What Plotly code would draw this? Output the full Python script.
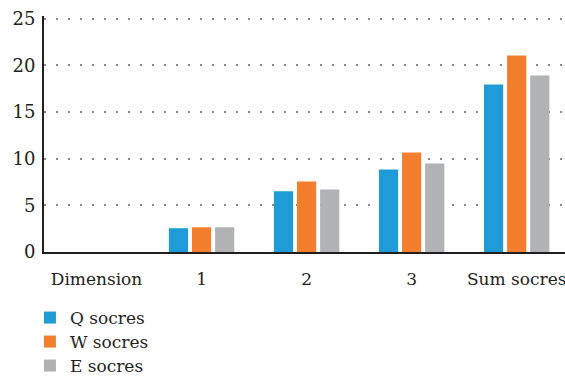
import plotly.graph_objects as go

categories = ["Dimension", "1", "2", "3", "Sum socres"]
q_scores = [None, 2.55, 6.5, 8.85, 17.95]
w_scores = [None, 2.65, 7.57, 10.67, 21.06]
e_scores = [None, 2.65, 6.71, 9.5, 18.92]
y_ticks = [0, 5, 10, 15, 20, 25]

series = [
    ("Q socres", q_scores, "#1F9BD7"),
    ("W socres", w_scores, "#F37F2E"),
    ("E socres", e_scores, "#B1B2B5"),
]

font_family = "DejaVu Serif"
text_color = "#231F20"

fig = go.Figure()
legend_ids = ["legend", "legend2", "legend3"]
for (name, vals, color), lid in zip(series, legend_ids):
    fig.add_trace(go.Bar(x=categories, y=vals, name=name, legend=lid,
                         marker=dict(color=color, line=dict(width=0))))

legend_style = dict(
    orientation="v",
    xref="container",
    yref="container",
    x=0.053,
    xanchor="left",
    yanchor="middle",
    font=dict(size=17, family=font_family, color=text_color),
    bgcolor="rgba(0,0,0,0)",
    borderwidth=0,
)
legend_rows = [318, 342, 366]

fig.update_layout(
    width=565,
    height=377,
    margin=dict(l=44, r=0, t=16.2, b=125, autoexpand=False),
    paper_bgcolor="white",
    plot_bgcolor="white",
    barmode="group",
    bargap=0.34,
    bargroupgap=0.17,
    font=dict(family=font_family, size=18, color=text_color),
    showlegend=True,
    legend=dict(legend_style, y=1 - legend_rows[0] / 377),
    legend2=dict(legend_style, y=1 - legend_rows[1] / 377),
    legend3=dict(legend_style, y=1 - legend_rows[2] / 377),
)

fig.update_xaxes(
    type="category",
    range=[-0.5, 4.46],
    showline=True,
    linecolor="#231F20",
    linewidth=2,
    ticks="",
    ticklabelstandoff=11,
    showgrid=False,
    tickfont=dict(size=17, family=font_family),
)

fig.update_yaxes(
    range=[0, 25.3],
    tickvals=y_ticks,
    showline=True,
    linecolor="#231F20",
    linewidth=2,
    ticks="",
    ticklabelstandoff=3,
    showgrid=True,
    gridcolor="#8A8A8A",
    gridwidth=2,
    griddash="2px,10px",
    zeroline=False,
    tickfont=dict(size=18, family=font_family),
)

fig.write_html("out.html")
